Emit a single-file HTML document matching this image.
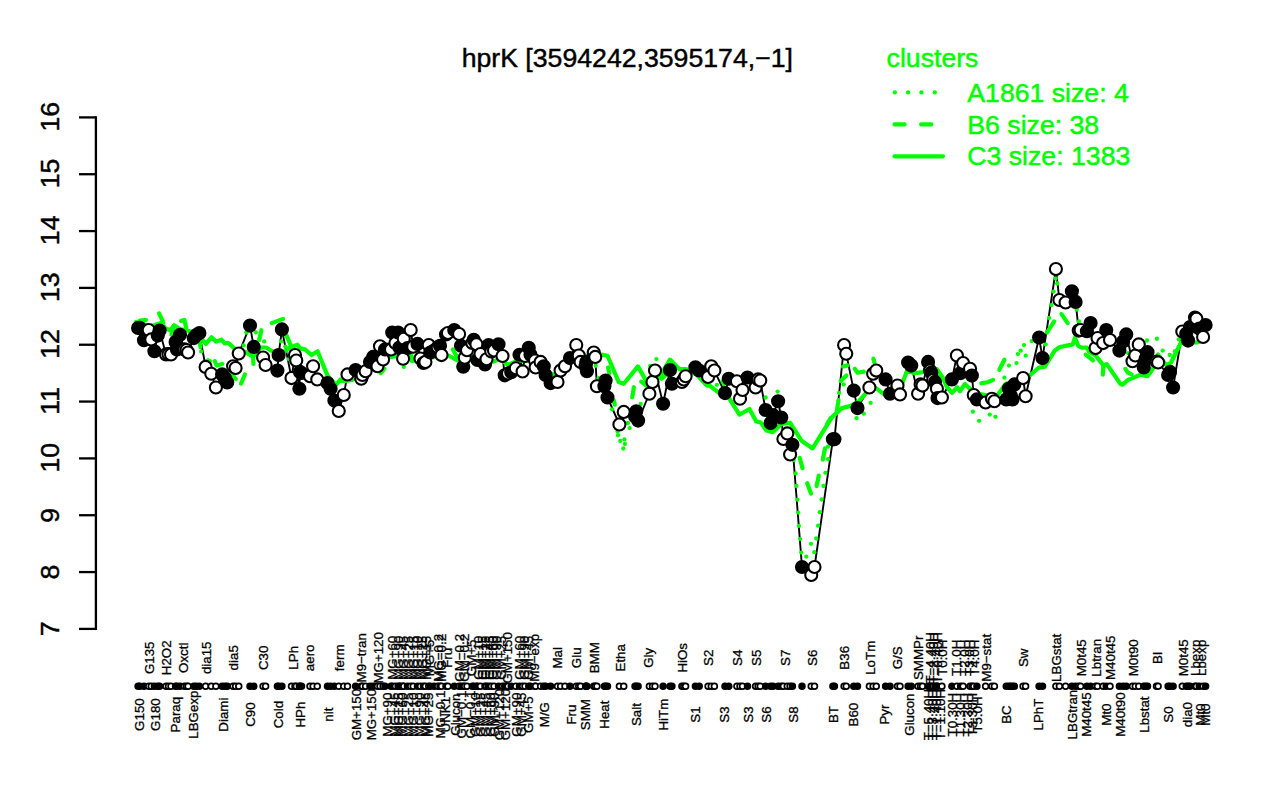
<!DOCTYPE html>
<html><head><meta charset="utf-8"><title>hprK</title>
<style>
html,body{margin:0;padding:0;background:#fff}
svg{display:block}
text{font-family:"Liberation Sans",sans-serif}
</style></head><body>
<svg width="1280" height="800" viewBox="0 0 1280 800">
<rect width="1280" height="800" fill="#fff"/>
<text x="627.3" y="67.1" font-size="26.67" text-anchor="middle" fill="#000" stroke="#000" stroke-width="0.45">hprK [3594242,3595174,−1]</text>
<g stroke="#000" stroke-width="2.3" fill="none" stroke-linecap="butt">
<line x1="95.9" y1="116.25" x2="95.9" y2="630.05"/>
<line x1="79" y1="628.9" x2="95.9" y2="628.9"/>
<line x1="79" y1="572.07" x2="95.9" y2="572.07"/>
<line x1="79" y1="515.23" x2="95.9" y2="515.23"/>
<line x1="79" y1="458.4" x2="95.9" y2="458.4"/>
<line x1="79" y1="401.57" x2="95.9" y2="401.57"/>
<line x1="79" y1="344.73" x2="95.9" y2="344.73"/>
<line x1="79" y1="287.9" x2="95.9" y2="287.9"/>
<line x1="79" y1="231.07" x2="95.9" y2="231.07"/>
<line x1="79" y1="174.23" x2="95.9" y2="174.23"/>
<line x1="79" y1="117.4" x2="95.9" y2="117.4"/>
</g>
<g font-size="26.67" fill="#000" stroke="#000" stroke-width="0.45" text-anchor="middle">
<text transform="translate(58.6,628.9) rotate(-90)">7</text>
<text transform="translate(58.6,572.07) rotate(-90)">8</text>
<text transform="translate(58.6,515.23) rotate(-90)">9</text>
<text transform="translate(58.6,457.7) rotate(-90)">10</text>
<text transform="translate(58.6,400.87) rotate(-90)">11</text>
<text transform="translate(58.6,344.03) rotate(-90)">12</text>
<text transform="translate(58.6,287.2) rotate(-90)">13</text>
<text transform="translate(58.6,230.37) rotate(-90)">14</text>
<text transform="translate(58.6,173.53) rotate(-90)">15</text>
<text transform="translate(58.6,116.7) rotate(-90)">16</text>
</g>
<g font-size="26.67" fill="#00ff00" stroke="#00ff00" stroke-width="0.5">
<text x="886.6" y="67.2">clusters</text>
<text x="967.3" y="101.8">A1861 size: 4</text>
<text x="967.3" y="133.6">B6 size: 38</text>
<text x="967.3" y="165.3">C3 size: 1383</text>
</g>
<polyline points="138.1,328 139.8,327.8 144,340.25 148.75,330 151.25,339.4 154.4,351.25 157.75,335.6 159.6,330.6 166,354.4 168.5,354.2 171,354.4 175.6,341.9 176.9,349.4 180,334.75 184.4,349.4 186.5,350 188.1,352.5 193.75,338.1 196.25,335 199.4,333.1 205.6,366.9 211.25,373.75 215.9,387.5 222.1,374.4 225,378.1 227.25,382.5 233.1,366.25 235.6,368.1 238.75,353.5 250,325.6 253.75,346.9 263.1,357.5 265.6,365 277.4,370.6 278.6,355 281.9,329.4 291.5,378.1 295,355 296.25,360.6 299.4,388.75 300,371.9 301.5,373 310,376.25 313.1,366.25 317.25,379.4 327.5,383.1 330.6,388.75 334.4,400.6 338.75,411 343.75,395 347.5,374.4 355.6,370 361.25,378.75 362.5,375 365.6,371.25 370,361.9 373.1,356.9 377.5,366.25 380,346.25 383.1,359.4 385,349.4 391,349.4 392.2,332.5 395.4,343.1 398.1,332.5 399.4,347.5 400.6,348.75 403.1,358.75 403.75,338.75 407.5,348 410.7,330 413.2,346.7 417.5,343.9 420.5,358.5 423.5,363 425.4,361.9 428.75,345 430.25,352.5 434,350.5 437.75,347.25 440,345.75 441.5,355.1 446,334.5 447.9,333 454.25,330 459.1,334.1 461,345.75 463.25,366.75 464.75,357.75 467,350.25 472.3,343 473.75,339.75 476.4,344.25 477.5,360 480.5,354 485,364.5 486.5,359.25 488.6,345.1 491.3,351.5 494,350.6 498.5,344.25 502.5,356 504.7,375.3 508,373.5 511.25,372.25 515.8,368.3 519.5,354.75 522.6,371.4 525,356 528.75,347.75 530.5,354.75 535,360.6 535.6,367.5 540.6,361.9 543.75,366.25 545.6,375 550.6,383.1 557.5,381.9 560.6,370.6 565,366.25 570,358.1 576.25,345 578.75,355.6 580.6,361.9 585.6,366.25 586.25,361.9 586.9,371.25 593.75,352.5 595.25,356.9 596.9,386.25 604.4,386.25 605.6,380.6 607.5,397.5 619.4,424.4 623.75,411.9 635,416.25 636.25,411.25 638.1,420.6 649.4,393.75 652.5,381.9 655,370.6 663.1,403.75 670,370 671.9,383.75 681.9,381.9 683.75,379.4 685.6,376.25 695.4,367.3 699.2,370.5 708.1,376.9 711.25,366.25 714.4,370.6 725,393.1 728.75,378.75 736.9,381.25 740,398.75 742.5,390 747.5,377.5 755.6,387.5 758.1,379.4 760.25,380.6 765.6,410 770.6,423.1 773,415 778.1,401.25 781.25,417.5 783.4,438.9 787.3,433.4 790.1,454.5 792.4,444.8 802,567 811.25,575 814.5,567 832.9,439.3 834.4,439.2 844.1,345 846.25,353.75 853.75,390.6 857.5,408.1 869.4,387.5 873.1,373.75 876.25,370.6 885.6,379.4 890,393.75 897.5,385.6 900,394.4 908.1,362.5 911.25,365.6 918.1,393.75 920.6,384.4 922.5,385.6 928.1,361.9 930,370.6 931.25,372.5 933.1,380 935,381.9 936.9,388.75 937.5,398.1 941.9,397.5 951.9,379.4 956.9,355.6 960.6,373.1 963.1,363.1 970,368.75 971.9,375.6 973.75,395 976.9,399.4 985.6,402.5 991.9,398.75 994.4,401.25 1006.25,399.4 1008.75,388.75 1010.5,395 1012.5,399.4 1014.4,384.4 1023.1,378.1 1025.6,396.25 1039.1,337.5 1042.5,358.1 1055.9,269.1 1059.4,300 1065.6,302.5 1071.9,291.25 1075.6,301.9 1078.75,330.6 1080.6,330 1086.9,331.25 1090.6,323.1 1095.6,348.1 1097.5,338.1 1103.1,343.1 1106.25,330 1110,340 1119.4,350.6 1123.1,341.6 1126.25,334.4 1132.5,361.25 1135.3,355.5 1138.75,344.4 1143.75,367.5 1145.6,358.75 1147.5,352.2 1156.5,361.5 1158.1,362.5 1168.1,375 1170,371.9 1173.1,387.5 1182.3,331.6 1186.25,333.75 1188.1,340.6 1190,327 1195,317.5 1196.4,318.75 1199.3,328.5 1203.1,336.9 1205.6,325" stroke="#000" stroke-width="1.9" fill="none" stroke-linejoin="round"/>
<g stroke="#00ff00" stroke-width="4.2" fill="none" stroke-linecap="round" stroke-linejoin="round">
<line x1="894.5" y1="124.4" x2="943" y2="124.4" stroke-dasharray="10.1 16.57"/>
<line x1="894.5" y1="156.3" x2="943" y2="156.3"/>
<polyline points="139.6,320.6 146,320"/>
<polyline points="159.05,313.4 163.3,322.3"/>
<polyline points="171.4,334.5 174,325.5"/>
<polyline points="181.1,320.9 184.4,320 186.2,327.5"/>
<polyline points="199.5,342 200.5,347"/>
<polyline points="207.8,360.3 210,361"/>
<polyline points="214.8,361.2 216.7,365.5 222.3,364"/>
<polyline points="229.3,372.5 235.9,379"/>
<polyline points="244.9,374.5 241,383.6"/>
<polyline points="261.4,330.2 259.1,340"/>
<polyline points="253.2,358 253.4,364"/>
<polyline points="271.7,323.1 283,318.9"/>
<polyline points="286.2,334.8 291.4,346.6"/>
<polyline points="380.6,373.1 384.4,368.75"/>
<polyline points="452.75,349.5 457.5,357.5"/>
<polyline points="608.1,367.5 609.2,373.1"/>
<polyline points="613.7,400.1 614.8,404.6"/>
<polyline points="633.9,387.2 632.2,397.3"/>
<polyline points="641.2,381.6 646.3,385.5"/>
<polyline points="661.5,378.7 664.9,375.9"/>
<polyline points="722.5,381.4 724.2,384.2"/>
<polyline points="799.7,457.8 802.5,468.1"/>
<polyline points="807.2,483.2 811,493.5"/>
<polyline points="818.8,475.6 816.6,486"/>
<polyline points="825,448.4 822.8,459.7"/>
<polyline points="827.2,423.9 830.6,418.2"/>
<polyline points="836.8,411.5 838.5,400.2"/>
<polyline points="840.7,381.1 846.4,375.5"/>
<polyline points="843,366.5 847.5,365.4"/>
<polyline points="854.8,368.7 857.6,372.7 863.8,371.6"/>
<polyline points="873.4,358.6 874.5,362.6"/>
<polyline points="981.3,383.3 987.5,382.2 993.1,379.9"/>
<polyline points="1004.4,359.7 999.3,369.8"/>
<polyline points="1054.2,321.4 1046.9,332.6"/>
<polyline points="1061.5,314.1 1067.7,323.1"/>
<polyline points="1085.7,354.6 1093,360.4"/>
<polyline points="1103.3,367 1102.8,374.6"/>
<polyline points="1125.4,368.9 1127.6,372.5 1131.5,374.4"/>
<polyline points="136,322 150,326 153.9,325.2 161,323 165.6,328.4 170.3,330.3 174,325.4 180,329 186.2,330.3 190,331.2 196,333 202.2,339.7 205.9,343.9 211.5,337.3 216.2,341.6 221.4,339.7 224.7,343.4 228.4,343 234,348.1 240,350.5 245.9,352.2 251.6,355.9 254.8,355 260.9,347.5 266.1,347.5 272.2,351.2 279,352 285.3,351.2 290,347.5 297.5,344.7 300.3,348.4 305,349.4 311.5,355 317.6,351.2 327.5,375.6 335.9,385 340.6,379.4 343.9,381.2 352,380 362,372 372,360 383,355 391.25,356.9 396.25,356.25 404,352 411.25,355 412,361 425,360 432,357.5 447.5,355 457.5,360.5 469.25,360.75 472.25,355.5 480,357 492,362 500,359 508,365 517,361 528,360 540,366 548,373 556,375 566,364 575,355 588,356 601.3,354.6 607.5,355.7 618.7,382.1 623.8,383.8 637.9,366.4 646.9,382.1 652,383 659.2,377.6 669.9,359.6 679.5,369.2 686.2,369.2 697,375 706.7,385.4 710.1,385.9 718,392.1 729.2,398.3 739.4,414.6 749.5,409 756.2,421.4 760.7,422.5 766.4,430.4 773.1,432.1 781,424.2 790,422.7 801.6,440.8 812.6,448.4 831.8,417.4 841.9,408.1 850.9,405.9 858.7,401.4 866.6,392.4 875.6,387.9 884.6,394.6 893,386 902.6,382.2 907.1,371 915,373.2 922.9,372.1 931,369.5 936.9,369.2 942.5,377.1 947,387.2 952.1,392.9 957.1,387.2 959.9,391.2 965,383.9 969.5,388.4 978,393.5 990,396 997.6,395.1 1005.5,383.9 1018,380 1029.1,376 1039,367.5 1044.6,366.9 1054.7,350.6 1059.2,347.2 1072.7,344.4 1075,337.7 1078.4,346.1 1081.7,347.6 1086.9,347.6 1088.9,351.7 1095.8,355.8 1103.4,365.4 1106.8,364.1 1120.5,384 1122.6,384.7 1128.1,379.9 1135,377.1 1140.2,374.6 1147.5,376.25 1153.75,367.5 1158,354.5 1166.5,365.5 1171,362.5 1181,342.5 1197,342.5 1206,338"/>
</g>
<g fill="#00ff00">
<circle cx="894.85" cy="92.4" r="2.15"/>
<circle cx="908.15" cy="92.4" r="2.15"/>
<circle cx="921.45" cy="92.4" r="2.15"/>
<circle cx="934.75" cy="92.4" r="2.15"/>
<circle cx="201.2" cy="351.4" r="2.15"/>
<circle cx="246.4" cy="332.5" r="2.15"/>
<circle cx="255.8" cy="332.3" r="2.15"/>
<circle cx="264.2" cy="341.4" r="2.15"/>
<circle cx="243.6" cy="345.4" r="2.15"/>
<circle cx="281.1" cy="341.4" r="2.15"/>
<circle cx="285.3" cy="346.6" r="2.15"/>
<circle cx="288.9" cy="359.2" r="2.15"/>
<circle cx="403.75" cy="366.9" r="2.15"/>
<circle cx="595.7" cy="365.8" r="2.15"/>
<circle cx="598.5" cy="378.2" r="2.15"/>
<circle cx="612" cy="409.3" r="2.15"/>
<circle cx="629.6" cy="428.1" r="2.15"/>
<circle cx="617.6" cy="431.5" r="2.15"/>
<circle cx="627.9" cy="423" r="2.15"/>
<circle cx="618" cy="435.25" r="2.15"/>
<circle cx="620.25" cy="441" r="2.15"/>
<circle cx="624.4" cy="439.4" r="2.15"/>
<circle cx="624.9" cy="444" r="2.15"/>
<circle cx="623.3" cy="448.5" r="2.15"/>
<circle cx="640.7" cy="404" r="2.15"/>
<circle cx="656.4" cy="359.1" r="2.15"/>
<circle cx="650.2" cy="365.8" r="2.15"/>
<circle cx="716.9" cy="384.8" r="2.15"/>
<circle cx="765.6" cy="397.5" r="2.15"/>
<circle cx="777.6" cy="391.6" r="2.15"/>
<circle cx="793.7" cy="460" r="2.15"/>
<circle cx="795.6" cy="473.4" r="2.15"/>
<circle cx="796.5" cy="486" r="2.15"/>
<circle cx="797.4" cy="499.7" r="2.15"/>
<circle cx="798.2" cy="512.6" r="2.15"/>
<circle cx="798.9" cy="525.9" r="2.15"/>
<circle cx="800.1" cy="539.1" r="2.15"/>
<circle cx="801.2" cy="552.6" r="2.15"/>
<circle cx="806.3" cy="556.7" r="2.15"/>
<circle cx="825.4" cy="472.8" r="2.15"/>
<circle cx="823.5" cy="486" r="2.15"/>
<circle cx="821.6" cy="499.5" r="2.15"/>
<circle cx="819.8" cy="512.2" r="2.15"/>
<circle cx="818.1" cy="525.7" r="2.15"/>
<circle cx="816.2" cy="538.5" r="2.15"/>
<circle cx="814.3" cy="552.2" r="2.15"/>
<circle cx="811" cy="543.8" r="2.15"/>
<circle cx="828" cy="459.2" r="2.15"/>
<circle cx="828" cy="446.7" r="2.15"/>
<circle cx="839.1" cy="392.9" r="2.15"/>
<circle cx="870.6" cy="402.8" r="2.15"/>
<circle cx="863.8" cy="413.7" r="2.15"/>
<circle cx="856.5" cy="418.2" r="2.15"/>
<circle cx="843.6" cy="384.5" r="2.15"/>
<circle cx="972.9" cy="411.7" r="2.15"/>
<circle cx="979.1" cy="420.8" r="2.15"/>
<circle cx="989.7" cy="414.6" r="2.15"/>
<circle cx="995.4" cy="416.8" r="2.15"/>
<circle cx="1004.4" cy="377.7" r="2.15"/>
<circle cx="1008.9" cy="365.6" r="2.15"/>
<circle cx="1016.5" cy="363.1" r="2.15"/>
<circle cx="1017.9" cy="354.1" r="2.15"/>
<circle cx="1020.7" cy="350.7" r="2.15"/>
<circle cx="1025.7" cy="355.7" r="2.15"/>
<circle cx="1024" cy="345.1" r="2.15"/>
<circle cx="1031.7" cy="341.1" r="2.15"/>
<circle cx="1045.7" cy="344.4" r="2.15"/>
<circle cx="1049.1" cy="318" r="2.15"/>
<circle cx="1051.4" cy="305.1" r="2.15"/>
<circle cx="1053.5" cy="291.6" r="2.15"/>
<circle cx="1057.25" cy="283.5" r="2.15"/>
<circle cx="1055.6" cy="278.5" r="2.15"/>
<circle cx="1076.7" cy="309.6" r="2.15"/>
<circle cx="1078.9" cy="321.4" r="2.15"/>
<circle cx="1147" cy="340.5" r="2.15"/>
<circle cx="1156.9" cy="338.75" r="2.15"/>
<circle cx="1162.75" cy="350.6" r="2.15"/>
<circle cx="1169.75" cy="355" r="2.15"/>
<circle cx="1175" cy="351.25" r="2.15"/>
<circle cx="1178.75" cy="339.4" r="2.15"/>
<circle cx="1140.2" cy="360.7" r="2.15"/>
<circle cx="1128.1" cy="353.1" r="2.15"/>
</g>
<g stroke="#000" stroke-width="2.1">
<circle cx="138.1" cy="328" r="6.03" fill="#000"/>
<circle cx="139.8" cy="327.8" r="6.03" fill="#000"/>
<circle cx="144" cy="340.25" r="6.03" fill="#000"/>
<circle cx="148.75" cy="330" r="6.03" fill="#fff"/>
<circle cx="151.25" cy="339.4" r="6.03" fill="#fff"/>
<circle cx="154.4" cy="351.25" r="6.03" fill="#000"/>
<circle cx="157.75" cy="335.6" r="6.03" fill="#000"/>
<circle cx="159.6" cy="330.6" r="6.03" fill="#000"/>
<circle cx="166" cy="354.4" r="6.03" fill="#fff"/>
<circle cx="168.5" cy="354.2" r="6.03" fill="#fff"/>
<circle cx="171" cy="354.4" r="6.03" fill="#fff"/>
<circle cx="175.6" cy="341.9" r="6.03" fill="#000"/>
<circle cx="176.9" cy="349.4" r="6.03" fill="#000"/>
<circle cx="180" cy="334.75" r="6.03" fill="#000"/>
<circle cx="184.4" cy="349.4" r="6.03" fill="#fff"/>
<circle cx="186.5" cy="350" r="6.03" fill="#fff"/>
<circle cx="188.1" cy="352.5" r="6.03" fill="#fff"/>
<circle cx="193.75" cy="338.1" r="6.03" fill="#000"/>
<circle cx="196.25" cy="335" r="6.03" fill="#000"/>
<circle cx="199.4" cy="333.1" r="6.03" fill="#000"/>
<circle cx="205.6" cy="366.9" r="6.03" fill="#fff"/>
<circle cx="211.25" cy="373.75" r="6.03" fill="#fff"/>
<circle cx="215.9" cy="387.5" r="6.03" fill="#fff"/>
<circle cx="222.1" cy="374.4" r="6.03" fill="#000"/>
<circle cx="225" cy="378.1" r="6.03" fill="#000"/>
<circle cx="227.25" cy="382.5" r="6.03" fill="#000"/>
<circle cx="233.1" cy="366.25" r="6.03" fill="#fff"/>
<circle cx="235.6" cy="368.1" r="6.03" fill="#fff"/>
<circle cx="238.75" cy="353.5" r="6.03" fill="#fff"/>
<circle cx="250" cy="325.6" r="6.03" fill="#000"/>
<circle cx="253.75" cy="346.9" r="6.03" fill="#000"/>
<circle cx="263.1" cy="357.5" r="6.03" fill="#fff"/>
<circle cx="265.6" cy="365" r="6.03" fill="#fff"/>
<circle cx="277.4" cy="370.6" r="6.03" fill="#000"/>
<circle cx="278.6" cy="355" r="6.03" fill="#000"/>
<circle cx="281.9" cy="329.4" r="6.03" fill="#000"/>
<circle cx="291.5" cy="378.1" r="6.03" fill="#fff"/>
<circle cx="295" cy="355" r="6.03" fill="#fff"/>
<circle cx="296.25" cy="360.6" r="6.03" fill="#fff"/>
<circle cx="299.4" cy="388.75" r="6.03" fill="#000"/>
<circle cx="300" cy="371.9" r="6.03" fill="#000"/>
<circle cx="301.5" cy="373" r="6.03" fill="#000"/>
<circle cx="310" cy="376.25" r="6.03" fill="#fff"/>
<circle cx="313.1" cy="366.25" r="6.03" fill="#fff"/>
<circle cx="317.25" cy="379.4" r="6.03" fill="#fff"/>
<circle cx="327.5" cy="383.1" r="6.03" fill="#000"/>
<circle cx="330.6" cy="388.75" r="6.03" fill="#000"/>
<circle cx="334.4" cy="400.6" r="6.03" fill="#000"/>
<circle cx="338.75" cy="411" r="6.03" fill="#fff"/>
<circle cx="343.75" cy="395" r="6.03" fill="#fff"/>
<circle cx="347.5" cy="374.4" r="6.03" fill="#fff"/>
<circle cx="355.6" cy="370" r="6.03" fill="#000"/>
<circle cx="361.25" cy="378.75" r="6.03" fill="#fff"/>
<circle cx="362.5" cy="375" r="6.03" fill="#fff"/>
<circle cx="365.6" cy="371.25" r="6.03" fill="#fff"/>
<circle cx="370" cy="361.9" r="6.03" fill="#000"/>
<circle cx="373.1" cy="356.9" r="6.03" fill="#000"/>
<circle cx="377.5" cy="366.25" r="6.03" fill="#fff"/>
<circle cx="380" cy="346.25" r="6.03" fill="#fff"/>
<circle cx="383.1" cy="359.4" r="6.03" fill="#fff"/>
<circle cx="385" cy="349.4" r="6.03" fill="#000"/>
<circle cx="391" cy="349.4" r="6.03" fill="#fff"/>
<circle cx="392.2" cy="332.5" r="6.03" fill="#000"/>
<circle cx="395.4" cy="343.1" r="6.03" fill="#fff"/>
<circle cx="398.1" cy="332.5" r="6.03" fill="#000"/>
<circle cx="399.4" cy="347.5" r="6.03" fill="#fff"/>
<circle cx="400.6" cy="348.75" r="6.03" fill="#000"/>
<circle cx="403.1" cy="358.75" r="6.03" fill="#fff"/>
<circle cx="403.75" cy="338.75" r="6.03" fill="#fff"/>
<circle cx="407.5" cy="348" r="6.03" fill="#000"/>
<circle cx="410.7" cy="330" r="6.03" fill="#fff"/>
<circle cx="413.2" cy="346.7" r="6.03" fill="#fff"/>
<circle cx="417.5" cy="343.9" r="6.03" fill="#000"/>
<circle cx="420.5" cy="358.5" r="6.03" fill="#fff"/>
<circle cx="423.5" cy="363" r="6.03" fill="#000"/>
<circle cx="425.4" cy="361.9" r="6.03" fill="#fff"/>
<circle cx="428.75" cy="345" r="6.03" fill="#fff"/>
<circle cx="430.25" cy="352.5" r="6.03" fill="#000"/>
<circle cx="434" cy="350.5" r="6.03" fill="#000"/>
<circle cx="437.75" cy="347.25" r="6.03" fill="#fff"/>
<circle cx="440" cy="345.75" r="6.03" fill="#000"/>
<circle cx="441.5" cy="355.1" r="6.03" fill="#fff"/>
<circle cx="446" cy="334.5" r="6.03" fill="#000"/>
<circle cx="447.9" cy="333" r="6.03" fill="#fff"/>
<circle cx="454.25" cy="330" r="6.03" fill="#000"/>
<circle cx="459.1" cy="334.1" r="6.03" fill="#fff"/>
<circle cx="461" cy="345.75" r="6.03" fill="#000"/>
<circle cx="463.25" cy="366.75" r="6.03" fill="#000"/>
<circle cx="464.75" cy="357.75" r="6.03" fill="#fff"/>
<circle cx="467" cy="350.25" r="6.03" fill="#fff"/>
<circle cx="472.3" cy="343" r="6.03" fill="#fff"/>
<circle cx="473.75" cy="339.75" r="6.03" fill="#000"/>
<circle cx="476.4" cy="344.25" r="6.03" fill="#fff"/>
<circle cx="477.5" cy="360" r="6.03" fill="#000"/>
<circle cx="480.5" cy="354" r="6.03" fill="#fff"/>
<circle cx="485" cy="364.5" r="6.03" fill="#000"/>
<circle cx="486.5" cy="359.25" r="6.03" fill="#fff"/>
<circle cx="488.6" cy="345.1" r="6.03" fill="#000"/>
<circle cx="491.3" cy="351.5" r="6.03" fill="#fff"/>
<circle cx="494" cy="350.6" r="6.03" fill="#fff"/>
<circle cx="498.5" cy="344.25" r="6.03" fill="#000"/>
<circle cx="502.5" cy="356" r="6.03" fill="#fff"/>
<circle cx="504.7" cy="375.3" r="6.03" fill="#000"/>
<circle cx="508" cy="373.5" r="6.03" fill="#fff"/>
<circle cx="511.25" cy="372.25" r="6.03" fill="#000"/>
<circle cx="515.8" cy="368.3" r="6.03" fill="#fff"/>
<circle cx="519.5" cy="354.75" r="6.03" fill="#000"/>
<circle cx="522.6" cy="371.4" r="6.03" fill="#fff"/>
<circle cx="525" cy="356" r="6.03" fill="#fff"/>
<circle cx="528.75" cy="347.75" r="6.03" fill="#000"/>
<circle cx="530.5" cy="354.75" r="6.03" fill="#000"/>
<circle cx="535" cy="360.6" r="6.03" fill="#fff"/>
<circle cx="535.6" cy="367.5" r="6.03" fill="#fff"/>
<circle cx="540.6" cy="361.9" r="6.03" fill="#fff"/>
<circle cx="543.75" cy="366.25" r="6.03" fill="#000"/>
<circle cx="545.6" cy="375" r="6.03" fill="#000"/>
<circle cx="550.6" cy="383.1" r="6.03" fill="#000"/>
<circle cx="557.5" cy="381.9" r="6.03" fill="#fff"/>
<circle cx="560.6" cy="370.6" r="6.03" fill="#fff"/>
<circle cx="565" cy="366.25" r="6.03" fill="#fff"/>
<circle cx="570" cy="358.1" r="6.03" fill="#000"/>
<circle cx="576.25" cy="345" r="6.03" fill="#fff"/>
<circle cx="578.75" cy="355.6" r="6.03" fill="#fff"/>
<circle cx="580.6" cy="361.9" r="6.03" fill="#fff"/>
<circle cx="585.6" cy="366.25" r="6.03" fill="#000"/>
<circle cx="586.25" cy="361.9" r="6.03" fill="#000"/>
<circle cx="586.9" cy="371.25" r="6.03" fill="#000"/>
<circle cx="593.75" cy="352.5" r="6.03" fill="#fff"/>
<circle cx="595.25" cy="356.9" r="6.03" fill="#fff"/>
<circle cx="596.9" cy="386.25" r="6.03" fill="#fff"/>
<circle cx="604.4" cy="386.25" r="6.03" fill="#000"/>
<circle cx="605.6" cy="380.6" r="6.03" fill="#000"/>
<circle cx="607.5" cy="397.5" r="6.03" fill="#000"/>
<circle cx="619.4" cy="424.4" r="6.03" fill="#fff"/>
<circle cx="623.75" cy="411.9" r="6.03" fill="#fff"/>
<circle cx="635" cy="416.25" r="6.03" fill="#000"/>
<circle cx="636.25" cy="411.25" r="6.03" fill="#000"/>
<circle cx="638.1" cy="420.6" r="6.03" fill="#000"/>
<circle cx="649.4" cy="393.75" r="6.03" fill="#fff"/>
<circle cx="652.5" cy="381.9" r="6.03" fill="#fff"/>
<circle cx="655" cy="370.6" r="6.03" fill="#fff"/>
<circle cx="663.1" cy="403.75" r="6.03" fill="#000"/>
<circle cx="670" cy="370" r="6.03" fill="#000"/>
<circle cx="671.9" cy="383.75" r="6.03" fill="#000"/>
<circle cx="681.9" cy="381.9" r="6.03" fill="#fff"/>
<circle cx="683.75" cy="379.4" r="6.03" fill="#fff"/>
<circle cx="685.6" cy="376.25" r="6.03" fill="#fff"/>
<circle cx="695.4" cy="367.3" r="6.03" fill="#000"/>
<circle cx="699.2" cy="370.5" r="6.03" fill="#000"/>
<circle cx="708.1" cy="376.9" r="6.03" fill="#fff"/>
<circle cx="711.25" cy="366.25" r="6.03" fill="#fff"/>
<circle cx="714.4" cy="370.6" r="6.03" fill="#fff"/>
<circle cx="725" cy="393.1" r="6.03" fill="#000"/>
<circle cx="728.75" cy="378.75" r="6.03" fill="#000"/>
<circle cx="736.9" cy="381.25" r="6.03" fill="#fff"/>
<circle cx="740" cy="398.75" r="6.03" fill="#fff"/>
<circle cx="742.5" cy="390" r="6.03" fill="#fff"/>
<circle cx="747.5" cy="377.5" r="6.03" fill="#000"/>
<circle cx="755.6" cy="387.5" r="6.03" fill="#fff"/>
<circle cx="758.1" cy="379.4" r="6.03" fill="#fff"/>
<circle cx="760.25" cy="380.6" r="6.03" fill="#fff"/>
<circle cx="765.6" cy="410" r="6.03" fill="#000"/>
<circle cx="770.6" cy="423.1" r="6.03" fill="#000"/>
<circle cx="773" cy="415" r="6.03" fill="#000"/>
<circle cx="778.1" cy="401.25" r="6.03" fill="#000"/>
<circle cx="781.25" cy="417.5" r="6.03" fill="#000"/>
<circle cx="783.4" cy="438.9" r="6.03" fill="#fff"/>
<circle cx="787.3" cy="433.4" r="6.03" fill="#fff"/>
<circle cx="790.1" cy="454.5" r="6.03" fill="#fff"/>
<circle cx="792.4" cy="444.8" r="6.03" fill="#000"/>
<circle cx="802" cy="567" r="6.03" fill="#000"/>
<circle cx="811.25" cy="575" r="6.03" fill="#fff"/>
<circle cx="814.5" cy="567" r="6.03" fill="#fff"/>
<circle cx="832.9" cy="439.3" r="6.03" fill="#000"/>
<circle cx="834.4" cy="439.2" r="6.03" fill="#000"/>
<circle cx="844.1" cy="345" r="6.03" fill="#fff"/>
<circle cx="846.25" cy="353.75" r="6.03" fill="#fff"/>
<circle cx="853.75" cy="390.6" r="6.03" fill="#000"/>
<circle cx="857.5" cy="408.1" r="6.03" fill="#000"/>
<circle cx="869.4" cy="387.5" r="6.03" fill="#fff"/>
<circle cx="873.1" cy="373.75" r="6.03" fill="#fff"/>
<circle cx="876.25" cy="370.6" r="6.03" fill="#fff"/>
<circle cx="885.6" cy="379.4" r="6.03" fill="#000"/>
<circle cx="890" cy="393.75" r="6.03" fill="#000"/>
<circle cx="897.5" cy="385.6" r="6.03" fill="#fff"/>
<circle cx="900" cy="394.4" r="6.03" fill="#fff"/>
<circle cx="908.1" cy="362.5" r="6.03" fill="#000"/>
<circle cx="911.25" cy="365.6" r="6.03" fill="#000"/>
<circle cx="918.1" cy="393.75" r="6.03" fill="#fff"/>
<circle cx="920.6" cy="384.4" r="6.03" fill="#fff"/>
<circle cx="922.5" cy="385.6" r="6.03" fill="#fff"/>
<circle cx="928.1" cy="361.9" r="6.03" fill="#000"/>
<circle cx="930" cy="370.6" r="6.03" fill="#fff"/>
<circle cx="931.25" cy="372.5" r="6.03" fill="#000"/>
<circle cx="933.1" cy="380" r="6.03" fill="#fff"/>
<circle cx="935" cy="381.9" r="6.03" fill="#000"/>
<circle cx="936.9" cy="388.75" r="6.03" fill="#fff"/>
<circle cx="937.5" cy="398.1" r="6.03" fill="#000"/>
<circle cx="941.9" cy="397.5" r="6.03" fill="#fff"/>
<circle cx="951.9" cy="379.4" r="6.03" fill="#000"/>
<circle cx="956.9" cy="355.6" r="6.03" fill="#fff"/>
<circle cx="960.6" cy="373.1" r="6.03" fill="#000"/>
<circle cx="963.1" cy="363.1" r="6.03" fill="#fff"/>
<circle cx="970" cy="368.75" r="6.03" fill="#fff"/>
<circle cx="971.9" cy="375.6" r="6.03" fill="#000"/>
<circle cx="973.75" cy="395" r="6.03" fill="#fff"/>
<circle cx="976.9" cy="399.4" r="6.03" fill="#000"/>
<circle cx="985.6" cy="402.5" r="6.03" fill="#fff"/>
<circle cx="991.9" cy="398.75" r="6.03" fill="#fff"/>
<circle cx="994.4" cy="401.25" r="6.03" fill="#fff"/>
<circle cx="1006.25" cy="399.4" r="6.03" fill="#000"/>
<circle cx="1008.75" cy="388.75" r="6.03" fill="#000"/>
<circle cx="1010.5" cy="395" r="6.03" fill="#000"/>
<circle cx="1012.5" cy="399.4" r="6.03" fill="#000"/>
<circle cx="1014.4" cy="384.4" r="6.03" fill="#000"/>
<circle cx="1023.1" cy="378.1" r="6.03" fill="#fff"/>
<circle cx="1025.6" cy="396.25" r="6.03" fill="#fff"/>
<circle cx="1039.1" cy="337.5" r="6.03" fill="#000"/>
<circle cx="1042.5" cy="358.1" r="6.03" fill="#000"/>
<circle cx="1055.9" cy="269.1" r="6.03" fill="#fff"/>
<circle cx="1059.4" cy="300" r="6.03" fill="#fff"/>
<circle cx="1065.6" cy="302.5" r="6.03" fill="#fff"/>
<circle cx="1071.9" cy="291.25" r="6.03" fill="#000"/>
<circle cx="1075.6" cy="301.9" r="6.03" fill="#000"/>
<circle cx="1078.75" cy="330.6" r="6.03" fill="#fff"/>
<circle cx="1080.6" cy="330" r="6.03" fill="#fff"/>
<circle cx="1086.9" cy="331.25" r="6.03" fill="#000"/>
<circle cx="1090.6" cy="323.1" r="6.03" fill="#000"/>
<circle cx="1095.6" cy="348.1" r="6.03" fill="#fff"/>
<circle cx="1097.5" cy="338.1" r="6.03" fill="#fff"/>
<circle cx="1103.1" cy="343.1" r="6.03" fill="#fff"/>
<circle cx="1106.25" cy="330" r="6.03" fill="#000"/>
<circle cx="1110" cy="340" r="6.03" fill="#fff"/>
<circle cx="1119.4" cy="350.6" r="6.03" fill="#000"/>
<circle cx="1123.1" cy="341.6" r="6.03" fill="#000"/>
<circle cx="1126.25" cy="334.4" r="6.03" fill="#000"/>
<circle cx="1132.5" cy="361.25" r="6.03" fill="#fff"/>
<circle cx="1135.3" cy="355.5" r="6.03" fill="#fff"/>
<circle cx="1138.75" cy="344.4" r="6.03" fill="#fff"/>
<circle cx="1143.75" cy="367.5" r="6.03" fill="#000"/>
<circle cx="1145.6" cy="358.75" r="6.03" fill="#000"/>
<circle cx="1147.5" cy="352.2" r="6.03" fill="#000"/>
<circle cx="1156.5" cy="361.5" r="6.03" fill="#fff"/>
<circle cx="1158.1" cy="362.5" r="6.03" fill="#fff"/>
<circle cx="1168.1" cy="375" r="6.03" fill="#000"/>
<circle cx="1170" cy="371.9" r="6.03" fill="#000"/>
<circle cx="1173.1" cy="387.5" r="6.03" fill="#000"/>
<circle cx="1182.3" cy="331.6" r="6.03" fill="#fff"/>
<circle cx="1186.25" cy="333.75" r="6.03" fill="#000"/>
<circle cx="1188.1" cy="340.6" r="6.03" fill="#000"/>
<circle cx="1190" cy="327" r="6.03" fill="#000"/>
<circle cx="1195" cy="317.5" r="6.03" fill="#000"/>
<circle cx="1196.4" cy="318.75" r="6.03" fill="#fff"/>
<circle cx="1199.3" cy="328.5" r="6.03" fill="#000"/>
<circle cx="1203.1" cy="336.9" r="6.03" fill="#fff"/>
<circle cx="1205.6" cy="325" r="6.03" fill="#000"/>
</g>
<g stroke="#000" stroke-width="1.7">
<circle cx="138.1" cy="686.3" r="2.9" fill="#000"/>
<circle cx="139.8" cy="686.3" r="2.9" fill="#000"/>
<circle cx="144" cy="686.3" r="2.9" fill="#000"/>
<circle cx="148.75" cy="686.3" r="2.9" fill="#fff"/>
<circle cx="151.25" cy="686.3" r="2.9" fill="#fff"/>
<circle cx="154.4" cy="686.3" r="2.9" fill="#000"/>
<circle cx="157.75" cy="686.3" r="2.9" fill="#000"/>
<circle cx="159.6" cy="686.3" r="2.9" fill="#000"/>
<circle cx="166" cy="686.3" r="2.9" fill="#fff"/>
<circle cx="168.5" cy="686.3" r="2.9" fill="#fff"/>
<circle cx="171" cy="686.3" r="2.9" fill="#fff"/>
<circle cx="175.6" cy="686.3" r="2.9" fill="#000"/>
<circle cx="176.9" cy="686.3" r="2.9" fill="#000"/>
<circle cx="180" cy="686.3" r="2.9" fill="#000"/>
<circle cx="184.4" cy="686.3" r="2.9" fill="#fff"/>
<circle cx="186.5" cy="686.3" r="2.9" fill="#fff"/>
<circle cx="188.1" cy="686.3" r="2.9" fill="#fff"/>
<circle cx="193.75" cy="686.3" r="2.9" fill="#000"/>
<circle cx="196.25" cy="686.3" r="2.9" fill="#000"/>
<circle cx="199.4" cy="686.3" r="2.9" fill="#000"/>
<circle cx="205.6" cy="686.3" r="2.9" fill="#fff"/>
<circle cx="211.25" cy="686.3" r="2.9" fill="#fff"/>
<circle cx="215.9" cy="686.3" r="2.9" fill="#fff"/>
<circle cx="222.1" cy="686.3" r="2.9" fill="#000"/>
<circle cx="225" cy="686.3" r="2.9" fill="#000"/>
<circle cx="227.25" cy="686.3" r="2.9" fill="#000"/>
<circle cx="233.1" cy="686.3" r="2.9" fill="#fff"/>
<circle cx="235.6" cy="686.3" r="2.9" fill="#fff"/>
<circle cx="238.75" cy="686.3" r="2.9" fill="#fff"/>
<circle cx="250" cy="686.3" r="2.9" fill="#000"/>
<circle cx="253.75" cy="686.3" r="2.9" fill="#000"/>
<circle cx="263.1" cy="686.3" r="2.9" fill="#fff"/>
<circle cx="265.6" cy="686.3" r="2.9" fill="#fff"/>
<circle cx="277.4" cy="686.3" r="2.9" fill="#000"/>
<circle cx="278.6" cy="686.3" r="2.9" fill="#000"/>
<circle cx="281.9" cy="686.3" r="2.9" fill="#000"/>
<circle cx="291.5" cy="686.3" r="2.9" fill="#fff"/>
<circle cx="295" cy="686.3" r="2.9" fill="#fff"/>
<circle cx="296.25" cy="686.3" r="2.9" fill="#fff"/>
<circle cx="299.4" cy="686.3" r="2.9" fill="#000"/>
<circle cx="300" cy="686.3" r="2.9" fill="#000"/>
<circle cx="301.5" cy="686.3" r="2.9" fill="#000"/>
<circle cx="310" cy="686.3" r="2.9" fill="#fff"/>
<circle cx="313.1" cy="686.3" r="2.9" fill="#fff"/>
<circle cx="317.25" cy="686.3" r="2.9" fill="#fff"/>
<circle cx="327.5" cy="686.3" r="2.9" fill="#000"/>
<circle cx="330.6" cy="686.3" r="2.9" fill="#000"/>
<circle cx="334.4" cy="686.3" r="2.9" fill="#000"/>
<circle cx="338.75" cy="686.3" r="2.9" fill="#fff"/>
<circle cx="343.75" cy="686.3" r="2.9" fill="#fff"/>
<circle cx="347.5" cy="686.3" r="2.9" fill="#fff"/>
<circle cx="355.6" cy="686.3" r="2.9" fill="#000"/>
<circle cx="361.25" cy="686.3" r="2.9" fill="#fff"/>
<circle cx="362.5" cy="686.3" r="2.9" fill="#fff"/>
<circle cx="365.6" cy="686.3" r="2.9" fill="#fff"/>
<circle cx="370" cy="686.3" r="2.9" fill="#000"/>
<circle cx="373.1" cy="686.3" r="2.9" fill="#000"/>
<circle cx="377.5" cy="686.3" r="2.9" fill="#fff"/>
<circle cx="380" cy="686.3" r="2.9" fill="#fff"/>
<circle cx="383.1" cy="686.3" r="2.9" fill="#fff"/>
<circle cx="385" cy="686.3" r="2.9" fill="#000"/>
<circle cx="391" cy="686.3" r="2.9" fill="#fff"/>
<circle cx="392.2" cy="686.3" r="2.9" fill="#000"/>
<circle cx="395.4" cy="686.3" r="2.9" fill="#fff"/>
<circle cx="398.1" cy="686.3" r="2.9" fill="#000"/>
<circle cx="399.4" cy="686.3" r="2.9" fill="#fff"/>
<circle cx="400.6" cy="686.3" r="2.9" fill="#000"/>
<circle cx="403.1" cy="686.3" r="2.9" fill="#fff"/>
<circle cx="403.75" cy="686.3" r="2.9" fill="#fff"/>
<circle cx="407.5" cy="686.3" r="2.9" fill="#000"/>
<circle cx="410.7" cy="686.3" r="2.9" fill="#fff"/>
<circle cx="413.2" cy="686.3" r="2.9" fill="#fff"/>
<circle cx="417.5" cy="686.3" r="2.9" fill="#000"/>
<circle cx="420.5" cy="686.3" r="2.9" fill="#fff"/>
<circle cx="423.5" cy="686.3" r="2.9" fill="#000"/>
<circle cx="425.4" cy="686.3" r="2.9" fill="#fff"/>
<circle cx="428.75" cy="686.3" r="2.9" fill="#fff"/>
<circle cx="430.25" cy="686.3" r="2.9" fill="#000"/>
<circle cx="434" cy="686.3" r="2.9" fill="#000"/>
<circle cx="437.75" cy="686.3" r="2.9" fill="#fff"/>
<circle cx="440" cy="686.3" r="2.9" fill="#000"/>
<circle cx="441.5" cy="686.3" r="2.9" fill="#fff"/>
<circle cx="446" cy="686.3" r="2.9" fill="#000"/>
<circle cx="447.9" cy="686.3" r="2.9" fill="#fff"/>
<circle cx="454.25" cy="686.3" r="2.9" fill="#000"/>
<circle cx="459.1" cy="686.3" r="2.9" fill="#fff"/>
<circle cx="461" cy="686.3" r="2.9" fill="#000"/>
<circle cx="463.25" cy="686.3" r="2.9" fill="#000"/>
<circle cx="464.75" cy="686.3" r="2.9" fill="#fff"/>
<circle cx="467" cy="686.3" r="2.9" fill="#fff"/>
<circle cx="472.3" cy="686.3" r="2.9" fill="#fff"/>
<circle cx="473.75" cy="686.3" r="2.9" fill="#000"/>
<circle cx="476.4" cy="686.3" r="2.9" fill="#fff"/>
<circle cx="477.5" cy="686.3" r="2.9" fill="#000"/>
<circle cx="480.5" cy="686.3" r="2.9" fill="#fff"/>
<circle cx="485" cy="686.3" r="2.9" fill="#000"/>
<circle cx="486.5" cy="686.3" r="2.9" fill="#fff"/>
<circle cx="488.6" cy="686.3" r="2.9" fill="#000"/>
<circle cx="491.3" cy="686.3" r="2.9" fill="#fff"/>
<circle cx="494" cy="686.3" r="2.9" fill="#fff"/>
<circle cx="498.5" cy="686.3" r="2.9" fill="#000"/>
<circle cx="502.5" cy="686.3" r="2.9" fill="#fff"/>
<circle cx="504.7" cy="686.3" r="2.9" fill="#000"/>
<circle cx="508" cy="686.3" r="2.9" fill="#fff"/>
<circle cx="511.25" cy="686.3" r="2.9" fill="#000"/>
<circle cx="515.8" cy="686.3" r="2.9" fill="#fff"/>
<circle cx="519.5" cy="686.3" r="2.9" fill="#000"/>
<circle cx="522.6" cy="686.3" r="2.9" fill="#fff"/>
<circle cx="525" cy="686.3" r="2.9" fill="#fff"/>
<circle cx="528.75" cy="686.3" r="2.9" fill="#000"/>
<circle cx="530.5" cy="686.3" r="2.9" fill="#000"/>
<circle cx="535" cy="686.3" r="2.9" fill="#fff"/>
<circle cx="535.6" cy="686.3" r="2.9" fill="#fff"/>
<circle cx="540.6" cy="686.3" r="2.9" fill="#fff"/>
<circle cx="543.75" cy="686.3" r="2.9" fill="#000"/>
<circle cx="545.6" cy="686.3" r="2.9" fill="#000"/>
<circle cx="550.6" cy="686.3" r="2.9" fill="#000"/>
<circle cx="557.5" cy="686.3" r="2.9" fill="#fff"/>
<circle cx="560.6" cy="686.3" r="2.9" fill="#fff"/>
<circle cx="565" cy="686.3" r="2.9" fill="#fff"/>
<circle cx="570" cy="686.3" r="2.9" fill="#000"/>
<circle cx="576.25" cy="686.3" r="2.9" fill="#fff"/>
<circle cx="578.75" cy="686.3" r="2.9" fill="#fff"/>
<circle cx="580.6" cy="686.3" r="2.9" fill="#fff"/>
<circle cx="585.6" cy="686.3" r="2.9" fill="#000"/>
<circle cx="586.25" cy="686.3" r="2.9" fill="#000"/>
<circle cx="586.9" cy="686.3" r="2.9" fill="#000"/>
<circle cx="593.75" cy="686.3" r="2.9" fill="#fff"/>
<circle cx="595.25" cy="686.3" r="2.9" fill="#fff"/>
<circle cx="596.9" cy="686.3" r="2.9" fill="#fff"/>
<circle cx="604.4" cy="686.3" r="2.9" fill="#000"/>
<circle cx="605.6" cy="686.3" r="2.9" fill="#000"/>
<circle cx="607.5" cy="686.3" r="2.9" fill="#000"/>
<circle cx="619.4" cy="686.3" r="2.9" fill="#fff"/>
<circle cx="623.75" cy="686.3" r="2.9" fill="#fff"/>
<circle cx="635" cy="686.3" r="2.9" fill="#000"/>
<circle cx="636.25" cy="686.3" r="2.9" fill="#000"/>
<circle cx="638.1" cy="686.3" r="2.9" fill="#000"/>
<circle cx="649.4" cy="686.3" r="2.9" fill="#fff"/>
<circle cx="652.5" cy="686.3" r="2.9" fill="#fff"/>
<circle cx="655" cy="686.3" r="2.9" fill="#fff"/>
<circle cx="663.1" cy="686.3" r="2.9" fill="#000"/>
<circle cx="670" cy="686.3" r="2.9" fill="#000"/>
<circle cx="671.9" cy="686.3" r="2.9" fill="#000"/>
<circle cx="681.9" cy="686.3" r="2.9" fill="#fff"/>
<circle cx="683.75" cy="686.3" r="2.9" fill="#fff"/>
<circle cx="685.6" cy="686.3" r="2.9" fill="#fff"/>
<circle cx="695.4" cy="686.3" r="2.9" fill="#000"/>
<circle cx="699.2" cy="686.3" r="2.9" fill="#000"/>
<circle cx="708.1" cy="686.3" r="2.9" fill="#fff"/>
<circle cx="711.25" cy="686.3" r="2.9" fill="#fff"/>
<circle cx="714.4" cy="686.3" r="2.9" fill="#fff"/>
<circle cx="725" cy="686.3" r="2.9" fill="#000"/>
<circle cx="728.75" cy="686.3" r="2.9" fill="#000"/>
<circle cx="736.9" cy="686.3" r="2.9" fill="#fff"/>
<circle cx="740" cy="686.3" r="2.9" fill="#fff"/>
<circle cx="742.5" cy="686.3" r="2.9" fill="#fff"/>
<circle cx="747.5" cy="686.3" r="2.9" fill="#000"/>
<circle cx="755.6" cy="686.3" r="2.9" fill="#fff"/>
<circle cx="758.1" cy="686.3" r="2.9" fill="#fff"/>
<circle cx="760.25" cy="686.3" r="2.9" fill="#fff"/>
<circle cx="765.6" cy="686.3" r="2.9" fill="#000"/>
<circle cx="770.6" cy="686.3" r="2.9" fill="#000"/>
<circle cx="773" cy="686.3" r="2.9" fill="#000"/>
<circle cx="778.1" cy="686.3" r="2.9" fill="#000"/>
<circle cx="781.25" cy="686.3" r="2.9" fill="#000"/>
<circle cx="783.4" cy="686.3" r="2.9" fill="#fff"/>
<circle cx="787.3" cy="686.3" r="2.9" fill="#fff"/>
<circle cx="790.1" cy="686.3" r="2.9" fill="#fff"/>
<circle cx="792.4" cy="686.3" r="2.9" fill="#000"/>
<circle cx="802" cy="686.3" r="2.9" fill="#000"/>
<circle cx="811.25" cy="686.3" r="2.9" fill="#fff"/>
<circle cx="814.5" cy="686.3" r="2.9" fill="#fff"/>
<circle cx="832.9" cy="686.3" r="2.9" fill="#000"/>
<circle cx="834.4" cy="686.3" r="2.9" fill="#000"/>
<circle cx="844.1" cy="686.3" r="2.9" fill="#fff"/>
<circle cx="846.25" cy="686.3" r="2.9" fill="#fff"/>
<circle cx="853.75" cy="686.3" r="2.9" fill="#000"/>
<circle cx="857.5" cy="686.3" r="2.9" fill="#000"/>
<circle cx="869.4" cy="686.3" r="2.9" fill="#fff"/>
<circle cx="873.1" cy="686.3" r="2.9" fill="#fff"/>
<circle cx="876.25" cy="686.3" r="2.9" fill="#fff"/>
<circle cx="885.6" cy="686.3" r="2.9" fill="#000"/>
<circle cx="890" cy="686.3" r="2.9" fill="#000"/>
<circle cx="897.5" cy="686.3" r="2.9" fill="#fff"/>
<circle cx="900" cy="686.3" r="2.9" fill="#fff"/>
<circle cx="908.1" cy="686.3" r="2.9" fill="#000"/>
<circle cx="911.25" cy="686.3" r="2.9" fill="#000"/>
<circle cx="918.1" cy="686.3" r="2.9" fill="#fff"/>
<circle cx="920.6" cy="686.3" r="2.9" fill="#fff"/>
<circle cx="922.5" cy="686.3" r="2.9" fill="#fff"/>
<circle cx="928.1" cy="686.3" r="2.9" fill="#000"/>
<circle cx="930" cy="686.3" r="2.9" fill="#fff"/>
<circle cx="931.25" cy="686.3" r="2.9" fill="#000"/>
<circle cx="933.1" cy="686.3" r="2.9" fill="#fff"/>
<circle cx="935" cy="686.3" r="2.9" fill="#000"/>
<circle cx="936.9" cy="686.3" r="2.9" fill="#fff"/>
<circle cx="937.5" cy="686.3" r="2.9" fill="#000"/>
<circle cx="941.9" cy="686.3" r="2.9" fill="#fff"/>
<circle cx="951.9" cy="686.3" r="2.9" fill="#000"/>
<circle cx="956.9" cy="686.3" r="2.9" fill="#fff"/>
<circle cx="960.6" cy="686.3" r="2.9" fill="#000"/>
<circle cx="963.1" cy="686.3" r="2.9" fill="#fff"/>
<circle cx="970" cy="686.3" r="2.9" fill="#fff"/>
<circle cx="971.9" cy="686.3" r="2.9" fill="#000"/>
<circle cx="973.75" cy="686.3" r="2.9" fill="#fff"/>
<circle cx="976.9" cy="686.3" r="2.9" fill="#000"/>
<circle cx="985.6" cy="686.3" r="2.9" fill="#fff"/>
<circle cx="991.9" cy="686.3" r="2.9" fill="#fff"/>
<circle cx="994.4" cy="686.3" r="2.9" fill="#fff"/>
<circle cx="1006.25" cy="686.3" r="2.9" fill="#000"/>
<circle cx="1008.75" cy="686.3" r="2.9" fill="#000"/>
<circle cx="1010.5" cy="686.3" r="2.9" fill="#000"/>
<circle cx="1012.5" cy="686.3" r="2.9" fill="#000"/>
<circle cx="1014.4" cy="686.3" r="2.9" fill="#000"/>
<circle cx="1023.1" cy="686.3" r="2.9" fill="#fff"/>
<circle cx="1025.6" cy="686.3" r="2.9" fill="#fff"/>
<circle cx="1039.1" cy="686.3" r="2.9" fill="#000"/>
<circle cx="1042.5" cy="686.3" r="2.9" fill="#000"/>
<circle cx="1055.9" cy="686.3" r="2.9" fill="#fff"/>
<circle cx="1059.4" cy="686.3" r="2.9" fill="#fff"/>
<circle cx="1065.6" cy="686.3" r="2.9" fill="#fff"/>
<circle cx="1071.9" cy="686.3" r="2.9" fill="#000"/>
<circle cx="1075.6" cy="686.3" r="2.9" fill="#000"/>
<circle cx="1078.75" cy="686.3" r="2.9" fill="#fff"/>
<circle cx="1080.6" cy="686.3" r="2.9" fill="#fff"/>
<circle cx="1086.9" cy="686.3" r="2.9" fill="#000"/>
<circle cx="1090.6" cy="686.3" r="2.9" fill="#000"/>
<circle cx="1095.6" cy="686.3" r="2.9" fill="#fff"/>
<circle cx="1097.5" cy="686.3" r="2.9" fill="#fff"/>
<circle cx="1103.1" cy="686.3" r="2.9" fill="#fff"/>
<circle cx="1106.25" cy="686.3" r="2.9" fill="#000"/>
<circle cx="1110" cy="686.3" r="2.9" fill="#fff"/>
<circle cx="1119.4" cy="686.3" r="2.9" fill="#000"/>
<circle cx="1123.1" cy="686.3" r="2.9" fill="#000"/>
<circle cx="1126.25" cy="686.3" r="2.9" fill="#000"/>
<circle cx="1132.5" cy="686.3" r="2.9" fill="#fff"/>
<circle cx="1135.3" cy="686.3" r="2.9" fill="#fff"/>
<circle cx="1138.75" cy="686.3" r="2.9" fill="#fff"/>
<circle cx="1143.75" cy="686.3" r="2.9" fill="#000"/>
<circle cx="1145.6" cy="686.3" r="2.9" fill="#000"/>
<circle cx="1147.5" cy="686.3" r="2.9" fill="#000"/>
<circle cx="1156.5" cy="686.3" r="2.9" fill="#fff"/>
<circle cx="1158.1" cy="686.3" r="2.9" fill="#fff"/>
<circle cx="1168.1" cy="686.3" r="2.9" fill="#000"/>
<circle cx="1170" cy="686.3" r="2.9" fill="#000"/>
<circle cx="1173.1" cy="686.3" r="2.9" fill="#000"/>
<circle cx="1182.3" cy="686.3" r="2.9" fill="#fff"/>
<circle cx="1186.25" cy="686.3" r="2.9" fill="#000"/>
<circle cx="1188.1" cy="686.3" r="2.9" fill="#000"/>
<circle cx="1190" cy="686.3" r="2.9" fill="#000"/>
<circle cx="1195" cy="686.3" r="2.9" fill="#000"/>
<circle cx="1196.4" cy="686.3" r="2.9" fill="#fff"/>
<circle cx="1199.3" cy="686.3" r="2.9" fill="#000"/>
<circle cx="1203.1" cy="686.3" r="2.9" fill="#fff"/>
<circle cx="1205.6" cy="686.3" r="2.9" fill="#000"/>
</g>
<g font-size="13.33" fill="#000" stroke="#000" stroke-width="0.3" text-anchor="middle">
<text transform="translate(153.75,657.8) rotate(-90)">G135</text>
<text transform="translate(171.25,657.8) rotate(-90)">H2O2</text>
<text transform="translate(188.4,657.8) rotate(-90)">Oxctl</text>
<text transform="translate(210.9,657.8) rotate(-90)">dia15</text>
<text transform="translate(238.4,657.8) rotate(-90)">dia5</text>
<text transform="translate(268.4,657.8) rotate(-90)">C30</text>
<text transform="translate(297.5,657.8) rotate(-90)">LPh</text>
<text transform="translate(313.75,657.8) rotate(-90)">aero</text>
<text transform="translate(343.75,657.8) rotate(-90)">ferm</text>
<text transform="translate(366,657.8) rotate(-90)">M9−tran</text>
<text transform="translate(383.2,657.8) rotate(-90)">MG+120</text>
<text transform="translate(396.5,657.8) rotate(-90)">MG+60</text>
<text transform="translate(403.2,657.8) rotate(-90)">MG+90</text>
<text transform="translate(408,657.8) rotate(-90)">MG+45</text>
<text transform="translate(412.5,657.8) rotate(-90)">MG+25</text>
<text transform="translate(417.5,657.8) rotate(-90)">MG+15</text>
<text transform="translate(422,657.8) rotate(-90)">MG+10</text>
<text transform="translate(426.5,657.8) rotate(-90)">MG+25</text>
<text transform="translate(430.5,657.8) rotate(-90)">MG+15</text>
<text transform="translate(433.8,657.8) rotate(-90)">MG+5</text>
<text transform="translate(443.3,657.8) rotate(-90)">MG−0.2</text>
<text transform="translate(446.3,657.8) rotate(-90)">MG−0.2</text>
<text transform="translate(452.4,657.8) rotate(-90)">Fru</text>
<text transform="translate(464,657.8) rotate(-90)">GM−0.2</text>
<text transform="translate(468.5,657.8) rotate(-90)">GM−0.2</text>
<text transform="translate(475.6,657.8) rotate(-90)">GM+5</text>
<text transform="translate(482.5,657.8) rotate(-90)">GM+10</text>
<text transform="translate(486.5,657.8) rotate(-90)">GM+15</text>
<text transform="translate(490,657.8) rotate(-90)">GM+25</text>
<text transform="translate(493.5,657.8) rotate(-90)">GM+45</text>
<text transform="translate(497,657.8) rotate(-90)">GM+60</text>
<text transform="translate(500.5,657.8) rotate(-90)">GM+90</text>
<text transform="translate(506,657.8) rotate(-90)">GM+25</text>
<text transform="translate(512.2,657.8) rotate(-90)">GM+150</text>
<text transform="translate(524,657.8) rotate(-90)">GM+60</text>
<text transform="translate(528.7,657.8) rotate(-90)">GM+90</text>
<text transform="translate(532.7,657.8) rotate(-90)">GM+45</text>
<text transform="translate(538.7,657.8) rotate(-90)">M9−exp</text>
<text transform="translate(561.9,657.8) rotate(-90)">Mal</text>
<text transform="translate(581.25,657.8) rotate(-90)">Glu</text>
<text transform="translate(598.5,657.8) rotate(-90)">BMM</text>
<text transform="translate(625,657.8) rotate(-90)">Etha</text>
<text transform="translate(652.5,657.8) rotate(-90)">Gly</text>
<text transform="translate(686.9,657.8) rotate(-90)">HiOs</text>
<text transform="translate(713.1,657.8) rotate(-90)">S2</text>
<text transform="translate(741.9,657.8) rotate(-90)">S4</text>
<text transform="translate(760.6,657.8) rotate(-90)">S5</text>
<text transform="translate(790,657.8) rotate(-90)">S7</text>
<text transform="translate(816.9,657.8) rotate(-90)">S6</text>
<text transform="translate(849.4,657.8) rotate(-90)">B36</text>
<text transform="translate(875,657.8) rotate(-90)">LoTm</text>
<text transform="translate(901.5,657.8) rotate(-90)">G/S</text>
<text transform="translate(922.8,657.8) rotate(-90)">SMMPr</text>
<text transform="translate(934.7,657.8) rotate(-90)">T−4.40H</text>
<text transform="translate(937.9,657.8) rotate(-90)">T−2.40H</text>
<text transform="translate(941.9,657.8) rotate(-90)">T−0.40H</text>
<text transform="translate(946.5,657.8) rotate(-90)">T0.0H</text>
<text transform="translate(961.4,657.8) rotate(-90)">T1.0H</text>
<text transform="translate(968.7,657.8) rotate(-90)">T2.0H</text>
<text transform="translate(973.7,657.8) rotate(-90)">T3.0H</text>
<text transform="translate(978.8,657.8) rotate(-90)">T4.0H</text>
<text transform="translate(991,657.8) rotate(-90)">M9−stat</text>
<text transform="translate(1028.1,657.8) rotate(-90)">Sw</text>
<text transform="translate(1061.25,657.8) rotate(-90)">LBGstat</text>
<text transform="translate(1086.25,657.8) rotate(-90)">M0t45</text>
<text transform="translate(1101.25,657.8) rotate(-90)">Lbtran</text>
<text transform="translate(1115,657.8) rotate(-90)">M40t45</text>
<text transform="translate(1137.5,657.8) rotate(-90)">M0t90</text>
<text transform="translate(1161.9,657.8) rotate(-90)">BI</text>
<text transform="translate(1188.1,657.8) rotate(-90)">M0t45</text>
<text transform="translate(1199.5,657.8) rotate(-90)">Lbexp</text>
<text transform="translate(1206.25,657.8) rotate(-90)">Lbexp</text>
<text transform="translate(143.75,714.6) rotate(-90)">G150</text>
<text transform="translate(160,714.6) rotate(-90)">G180</text>
<text transform="translate(180,714.6) rotate(-90)">Paraq</text>
<text transform="translate(197.5,714.6) rotate(-90)">LBGexp</text>
<text transform="translate(227.5,714.6) rotate(-90)">Diami</text>
<text transform="translate(255,714.6) rotate(-90)">C90</text>
<text transform="translate(282.5,714.6) rotate(-90)">Cold</text>
<text transform="translate(305,714.6) rotate(-90)">HPh</text>
<text transform="translate(332.5,714.6) rotate(-90)">nit</text>
<text transform="translate(361.25,714.6) rotate(-90)">GM+150</text>
<text transform="translate(376.25,714.6) rotate(-90)">MG+150</text>
<text transform="translate(392,714.6) rotate(-90)">MG+90</text>
<text transform="translate(398.5,714.6) rotate(-90)">MG+45</text>
<text transform="translate(403,714.6) rotate(-90)">MG+15</text>
<text transform="translate(407.4,714.6) rotate(-90)">MG+60</text>
<text transform="translate(413.3,714.6) rotate(-90)">MG+25</text>
<text transform="translate(418.3,714.6) rotate(-90)">MG+10</text>
<text transform="translate(423.5,714.6) rotate(-90)">MG+90</text>
<text transform="translate(429.5,714.6) rotate(-90)">MG+45</text>
<text transform="translate(433,714.6) rotate(-90)">MG+25</text>
<text transform="translate(444.7,714.6) rotate(-90)">MG−0.1</text>
<text transform="translate(450.3,714.6) rotate(-90)">UNK1</text>
<text transform="translate(459.5,714.6) rotate(-90)">Glucon</text>
<text transform="translate(466.2,714.6) rotate(-90)">GM−0.1</text>
<text transform="translate(474.9,714.6) rotate(-90)">GM−0.1</text>
<text transform="translate(480.1,714.6) rotate(-90)">GM+10</text>
<text transform="translate(484.8,714.6) rotate(-90)">GM+25</text>
<text transform="translate(489.5,714.6) rotate(-90)">GM+45</text>
<text transform="translate(495,714.6) rotate(-90)">GM+60</text>
<text transform="translate(498.6,714.6) rotate(-90)">GM+90</text>
<text transform="translate(504,714.6) rotate(-90)">GM+120</text>
<text transform="translate(510.2,714.6) rotate(-90)">GM+120</text>
<text transform="translate(520.7,714.6) rotate(-90)">GM+90</text>
<text transform="translate(526.1,714.6) rotate(-90)">GM+45</text>
<text transform="translate(533.2,714.6) rotate(-90)">GM+5</text>
<text transform="translate(548.5,714.6) rotate(-90)">M/G</text>
<text transform="translate(575.6,714.6) rotate(-90)">Fru</text>
<text transform="translate(590,714.6) rotate(-90)">SMM</text>
<text transform="translate(609.4,714.6) rotate(-90)">Heat</text>
<text transform="translate(640.6,714.6) rotate(-90)">Salt</text>
<text transform="translate(668.1,714.6) rotate(-90)">HiTm</text>
<text transform="translate(700,714.6) rotate(-90)">S1</text>
<text transform="translate(729.4,714.6) rotate(-90)">S3</text>
<text transform="translate(752.5,714.6) rotate(-90)">S3</text>
<text transform="translate(770.6,714.6) rotate(-90)">S6</text>
<text transform="translate(797.5,714.6) rotate(-90)">S8</text>
<text transform="translate(837.5,714.6) rotate(-90)">BT</text>
<text transform="translate(858.1,714.6) rotate(-90)">B60</text>
<text transform="translate(889.4,714.6) rotate(-90)">Pyr</text>
<text transform="translate(913.75,714.6) rotate(-90)">Glucon</text>
<text transform="translate(932.9,714.6) rotate(-90)">T−5.40H</text>
<text transform="translate(936.7,714.6) rotate(-90)">T−3.40H</text>
<text transform="translate(940.7,714.6) rotate(-90)">T−1.40H</text>
<text transform="translate(944.5,714.6) rotate(-90)">T−1.10H</text>
<text transform="translate(957.1,714.6) rotate(-90)">T0.30H</text>
<text transform="translate(965.1,714.6) rotate(-90)">T1.30H</text>
<text transform="translate(971.6,714.6) rotate(-90)">T2.30H</text>
<text transform="translate(977.1,714.6) rotate(-90)">T3.30H</text>
<text transform="translate(981.7,714.6) rotate(-90)">T5.0H</text>
<text transform="translate(1010.6,714.6) rotate(-90)">BC</text>
<text transform="translate(1043.1,714.6) rotate(-90)">LPhT</text>
<text transform="translate(1076.9,714.6) rotate(-90)">LBGtran</text>
<text transform="translate(1091.25,714.6) rotate(-90)">M40t45</text>
<text transform="translate(1111.25,714.6) rotate(-90)">Mt0</text>
<text transform="translate(1125,714.6) rotate(-90)">M40t90</text>
<text transform="translate(1148.75,714.6) rotate(-90)">Lbstat</text>
<text transform="translate(1172.5,714.6) rotate(-90)">S0</text>
<text transform="translate(1191.5,714.6) rotate(-90)">dia0</text>
<text transform="translate(1204.5,714.6) rotate(-90)">Mt0</text>
<text transform="translate(1209.5,714.6) rotate(-90)">Mt0</text>
</g>
</svg></body></html>
